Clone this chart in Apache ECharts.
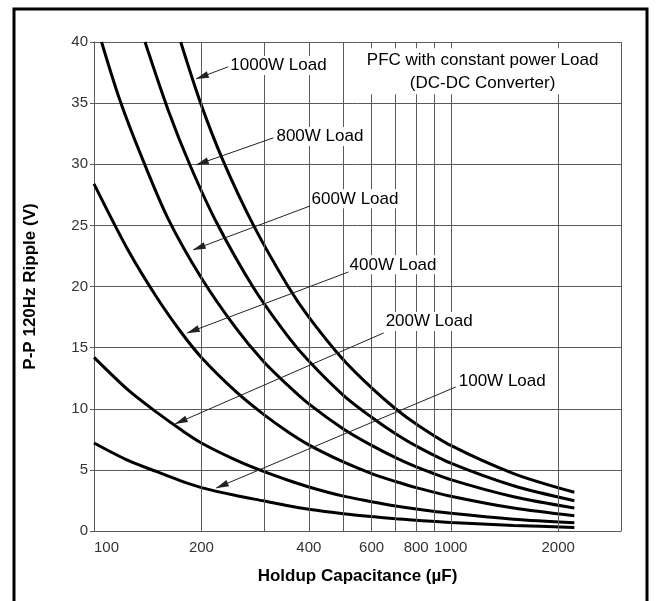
<!DOCTYPE html>
<html><head><meta charset="utf-8">
<script src="https://cdn.jsdelivr.net/npm/echarts@6/dist/echarts.min.js"></script>
<style>html,body{margin:0;padding:0;background:#fff}#c{width:661px;height:601px}</style>
</head><body><div id="c"></div>
<script>
// ---- data ----
const loadNames = ['100W Load','200W Load','400W Load','600W Load','800W Load','1000W Load'];
const cap100W  = [100,125,150,175,200,250,300,350,400,500,600,700,800,1000,1500,2220];
const ripple100W = [7.2,5.75,4.85,4.1,3.55,2.9,2.45,2.06,1.78,1.42,1.18,1.0,0.88,0.7,0.46,0.29];
const cap200W  = [100,125,150,175,200,250,300,350,400,500,600,700,800,1000,1500,2220];
const ripple200W = [14.2,11.5,9.7,8.3,7.2,5.8,4.85,4.15,3.6,2.85,2.4,2.05,1.8,1.45,0.97,0.67];
const cap400W  = [100,125,150,175,200,250,300,350,400,500,600,700,800,1000,1500,2220];
const ripple400W = [28.4,22.9,19.1,16.3,14.2,11.4,9.5,8.1,7.05,5.65,4.7,4.05,3.55,2.85,1.88,1.25];
const cap600W  = [105,118,136,161,200,250,300,350,400,500,600,700,800,1000,1500,2220];
const ripple600W = [40,35.3,30.6,25.6,20.7,16.6,13.8,11.9,10.4,8.35,7.0,6.0,5.25,4.2,2.8,1.88];
const cap800W  = [139,162,186,220,280,350,400,500,600,700,800,1000,1500,2220];
const ripple800W = [40,34.3,29.9,25.3,19.9,15.9,13.9,11.1,9.3,7.95,6.95,5.55,3.7,2.48];
const cap1000W = [175,199,230,280,350,400,500,600,700,800,1000,1500,2220];
const ripple1000W = [40,35,30.3,25,20,17.5,14.0,11.7,10.0,8.75,7.0,4.7,3.17];

const xTickLabels = [100,200,400,600,800,1000,2000];
const xGridValues = [200,300,400,500,600,700,800,900,1000,2000,3000];

// annotation anchors in data space [capacitance, ripple]
const annotLabelAt = [[1046,12.22],[652.6,17.13],[517,21.77],[404.4,27.17],[322.5,32.27],[239.4,38.08]];
const annotArrowFrom = [[1033,11.78],[648.3,16.2],[517,21.19],[404.4,26.6],[318.3,32.16],[237.8,37.97]];
const annotArrowTo = [[220.1,3.52],[168.9,8.76],[182.5,16.2],[189.7,23.0],[193.5,29.95],[193.5,36.99]];
const noteText = 'PFC with constant power Load\n(DC-DC Converter)';
const noteAt = [1228,37.6];

const caps = [cap100W,cap200W,cap400W,cap600W,cap800W,cap1000W];
const ripples = [ripple100W,ripple200W,ripple400W,ripple600W,ripple800W,ripple1000W];

const GRID = '#5a5a5a';
const FONT = 'Liberation Sans, Arial, sans-serif';
const NARROW = "'Liberation Sans Narrow', 'Arial Narrow', 'Liberation Sans', sans-serif";

const chart = echarts.init(document.getElementById('c'), null, {renderer:'canvas'});

const curveSeries = loadNames.map((n,i)=>({
  name:n, type:'line', smooth:0.3, symbol:'none', z:3,
  lineStyle:{color:'#000', width:3},
  data: caps[i].map((c,k)=>[c, ripples[i][k]])
}));

const arrowPath = 'path://M5,0 L10,26 L0,26 Z';

option = {
  animation:false,
  backgroundColor:'#fff',
  textStyle:{fontFamily:FONT},
  grid:{left:94, top:42, width:527, height:489, containLabel:false},
  graphic:[{type:'rect', z:100, shape:{x:14,y:9,width:633,height:620},
            style:{fill:'none', stroke:'#000', lineWidth:3}}],
  xAxis:{
    type:'log', logBase:10, min:100, max:3000,
    name:'Holdup Capacitance (µF)', nameLocation:'middle', nameGap:37,
    nameTextStyle:{fontFamily:FONT, fontWeight:'bold', fontSize:17, color:'#000'},
    axisLine:{show:true, lineStyle:{color:GRID, width:1}},
    axisTick:{show:false},
    splitLine:{show:false},
    minorTick:{show:false}, minorSplitLine:{show:false},
    axisLabel:{customValues:xTickLabels, alignMinLabel:'left', margin:9,
      formatter:(v)=>String(Math.round(v)),
      fontFamily:NARROW, fontSize:15, color:'#333'}
  },
  yAxis:{
    type:'value', min:0, max:40, interval:5,
    name:'P-P 120Hz Ripple (V)', nameLocation:'middle', nameGap:55,
    nameTextStyle:{fontFamily:FONT, fontWeight:'bold', fontSize:17, color:'#000'},
    axisLine:{show:true, lineStyle:{color:GRID, width:1}},
    axisTick:{show:true, length:4, lineStyle:{color:GRID}},
    splitLine:{show:true, lineStyle:{color:GRID, width:1}},
    axisLabel:{margin:6, fontFamily:NARROW, fontSize:15, color:'#333'}
  },
  series:[
    {name:'grid', type:'line', data:[[100,0]], symbol:'none', z:1, silent:true,
     lineStyle:{width:0},
     markLine:{silent:true, symbol:'none', animation:false, label:{show:false},
       lineStyle:{color:GRID, width:1, type:'solid'},
       data: xGridValues.map(v=>({xAxis:v}))}},
    ...curveSeries,
    {name:'notes', type:'line', data:[[100,0]], symbol:'none', z:5, silent:true,
     lineStyle:{width:0},
     markLine:{silent:true, animation:false, label:{show:false},
       lineStyle:{color:'#222', width:1, type:'solid'},
       data: annotArrowFrom.map((f,i)=>[
         {coord:f, symbol:'none'},
         {coord:annotArrowTo[i], symbol:arrowPath, symbolSize:[7,13], symbolOffset:[0,6]}
       ])},
     markPoint:{silent:true, animation:false, symbol:'circle', symbolSize:0,
       data:[
         ...annotLabelAt.map((p,i)=>({coord:p, value:loadNames[i],
            label:{show:true, position:'right', distance:0, formatter:loadNames[i],
              fontFamily:FONT, fontSize:17, color:'#000', backgroundColor:'#fff', padding:[1,1]}})),
         {coord:noteAt, value:'note',
            label:{show:true, position:'inside', formatter:noteText, align:'center',
              fontFamily:FONT, fontSize:17, lineHeight:23, color:'#000', backgroundColor:'#fff', padding:[0,2]}}
       ]}}
  ]
};
chart.setOption(option);
</script></body></html>
